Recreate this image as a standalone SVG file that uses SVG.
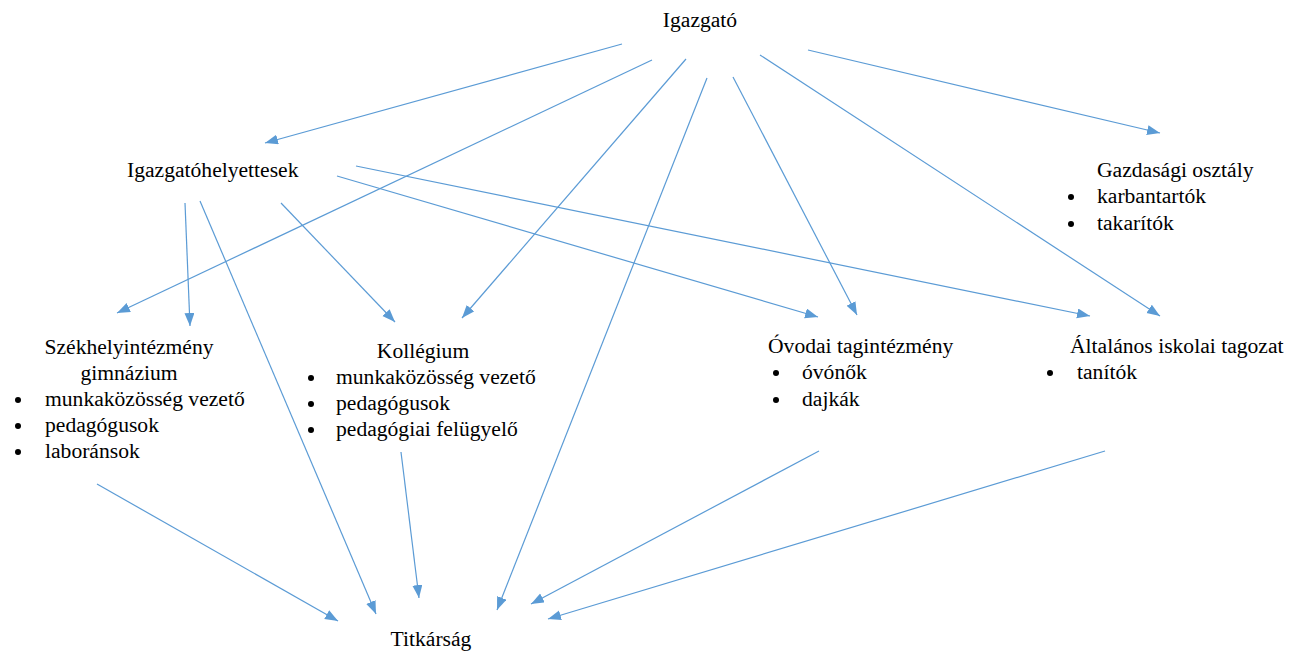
<svg xmlns="http://www.w3.org/2000/svg" width="1301" height="651" viewBox="0 0 1301 651">
<style>
text{font-family:"Liberation Serif","Times New Roman",serif;font-size:21.6px;fill:#000}
.c{text-anchor:middle}
line{stroke:#5b9bd5;stroke-width:1.2;fill:none}
circle{fill:#000}
</style>
<defs>
<marker id="ah" markerUnits="userSpaceOnUse" markerWidth="14" markerHeight="12" refX="13" refY="5" orient="auto">
<path d="M0,0 L13,5 L0,10 Z" fill="#5b9bd5"/>
</marker>
</defs>
<rect width="1301" height="651" fill="#fff"/>
<g id="connectors">
<line x1="622" y1="44" x2="265" y2="143" marker-end="url(#ah)"/>
<line x1="652" y1="60" x2="117" y2="313" marker-end="url(#ah)"/>
<line x1="686" y1="59" x2="462" y2="318" marker-end="url(#ah)"/>
<line x1="707" y1="78" x2="497" y2="610" marker-end="url(#ah)"/>
<line x1="733" y1="77" x2="857" y2="315" marker-end="url(#ah)"/>
<line x1="760" y1="55" x2="1160" y2="316" marker-end="url(#ah)"/>
<line x1="808" y1="50" x2="1160" y2="133" marker-end="url(#ah)"/>
<line x1="185" y1="203" x2="190" y2="326" marker-end="url(#ah)"/>
<line x1="200" y1="201" x2="376" y2="614" marker-end="url(#ah)"/>
<line x1="281" y1="203" x2="395" y2="322" marker-end="url(#ah)"/>
<line x1="337" y1="176" x2="818" y2="317" marker-end="url(#ah)"/>
<line x1="356" y1="166" x2="1090" y2="316" marker-end="url(#ah)"/>
<line x1="97" y1="484" x2="338" y2="621" marker-end="url(#ah)"/>
<line x1="401" y1="452" x2="419" y2="598" marker-end="url(#ah)"/>
<line x1="819" y1="451" x2="531" y2="604" marker-end="url(#ah)"/>
<line x1="1105" y1="451" x2="548" y2="619" marker-end="url(#ah)"/>
</g>
<g id="igazgato"><text class="c" x="700" y="27">Igazgató</text></g>
<g id="igazgatohelyettesek"><text x="127" y="177">Igazgatóhelyettesek</text></g>
<g id="gazdasagi">
<text x="1097" y="177">Gazdasági osztály</text>
<circle cx="1071" cy="197" r="3"/><text x="1097" y="203">karbantartók</text>
<circle cx="1071" cy="224" r="3"/><text x="1097" y="230">takarítók</text>
</g>
<g id="szekhely">
<text class="c" x="129" y="354">Székhelyintézmény</text>
<text class="c" x="129" y="380">gimnázium</text>
<circle cx="18" cy="400" r="3"/><text x="45" y="406">munkaközösség vezető</text>
<circle cx="18" cy="426" r="3"/><text x="45" y="432">pedagógusok</text>
<circle cx="18" cy="452" r="3"/><text x="45" y="458">laboránsok</text>
</g>
<g id="kollegium">
<text class="c" x="423" y="358">Kollégium</text>
<circle cx="311" cy="378" r="3"/><text x="336" y="384">munkaközösség vezető</text>
<circle cx="311" cy="404" r="3"/><text x="336" y="410">pedagógusok</text>
<circle cx="311" cy="430" r="3"/><text x="336" y="436">pedagógiai felügyelő</text>
</g>
<g id="ovodai">
<text x="768" y="353">Óvodai tagintézmény</text>
<circle cx="776" cy="373" r="3"/><text x="802" y="379">óvónők</text>
<circle cx="776" cy="400" r="3"/><text x="802" y="406">dajkák</text>
</g>
<g id="altalanos">
<text x="1070" y="353">Általános iskolai tagozat</text>
<circle cx="1050" cy="373" r="3"/><text x="1077" y="379">tanítók</text>
</g>
<g id="titkarsag"><text class="c" x="431" y="646">Titkárság</text></g>
</svg>
